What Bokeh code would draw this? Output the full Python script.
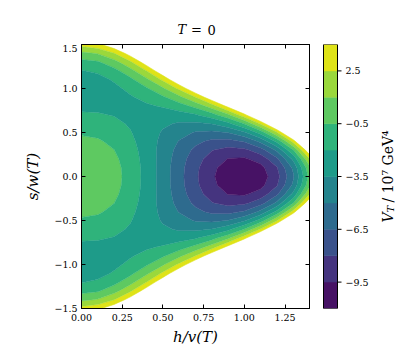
import numpy as np
from bokeh.plotting import figure
from bokeh.layouts import row, column
from bokeh.models import Range1d, FixedTicker, LinearAxis, Label, CustomJSTickFormatter
from bokeh.palettes import Viridis256
from bokeh.embed import file_html
from bokeh.resources import INLINE
from bokeh.core.properties import value

# ---------------- data ----------------
# grid positions of the potential samples, h/v(T) and s/w(T) >= 0 (field is symmetric in s)
h_vals = [0.0, 0.1, 0.2, 0.3, 0.4, 0.5, 0.6, 0.7, 0.8, 0.9, 1.0, 1.1, 1.2, 1.3, 1.4]
s_vals = [0.0, 0.1, 0.2, 0.3, 0.4, 0.5, 0.6, 0.7, 0.8, 0.9, 1.0, 1.1, 1.2, 1.3, 1.4, 1.5]
# V_T / 10^7 GeV^4, one row per s value, one column per h value
V_s00 = [0.96, 0.73, 0.04, -1.06, -2.51, -4.19, -5.99, -7.75, -9.29, -10.39, -10.81, -10.29, -8.53, -5.21, 0.04]
V_s01 = [0.89, 0.65, -0.02, -1.11, -2.52, -4.18, -5.94, -7.65, -9.14, -10.18, -10.53, -9.94, -8.10, -4.69, 0.65]
V_s02 = [0.67, 0.45, -0.20, -1.23, -2.58, -4.13, -5.78, -7.36, -8.68, -9.55, -9.70, -8.89, -6.81, -3.13, 2.49]
V_s03 = [0.31, 0.11, -0.48, -1.43, -2.65, -4.05, -5.50, -6.85, -7.92, -8.48, -8.31, -7.13, -4.64, -0.53, 5.56]
V_s04 = [-0.15, -0.32, -0.85, -1.67, -2.72, -3.90, -5.08, -6.11, -6.81, -6.96, -6.32, -4.62, -1.57, 3.15, 9.91]
V_s05 = [-0.69, -0.83, -1.26, -1.92, -2.75, -3.65, -4.48, -5.11, -5.33, -4.94, -3.71, -1.35, 2.42, 7.94, 15.54]
V_s06 = [-1.26, -1.37, -1.68, -2.15, -2.71, -3.26, -3.67, -3.79, -3.44, -2.40, -0.43, 2.74, 7.39, 13.87, 22.51]
V_s07 = [-1.82, -1.88, -2.06, -2.30, -2.54, -2.68, -2.60, -2.13, -1.09, 0.72, 3.56, 7.68, 13.38, 21.00, 30.87]
V_s08 = [-2.31, -2.32, -2.34, -2.32, -2.19, -1.86, -1.20, -0.05, 1.78, 4.49, 8.32, 13.54, 20.45, 29.38, 40.67]
V_s09 = [-2.66, -2.61, -2.45, -2.14, -1.59, -0.73, 0.59, 2.52, 5.23, 8.95, 13.92, 20.39, 28.67, 39.08, 51.98]
V_s10 = [-2.80, -2.68, -2.32, -1.67, -0.67, 0.80, 2.85, 5.64, 9.36, 14.21, 20.43, 28.30, 38.11, 50.18, 64.88]
V_s11 = [-2.63, -2.44, -1.86, -0.85, 0.68, 2.80, 5.66, 9.41, 14.22, 20.32, 27.95, 37.36, 48.86, 62.77, 79.45]
V_s12 = [-2.07, -1.80, -0.98, 0.44, 2.53, 5.38, 9.12, 13.91, 19.94, 27.41, 36.56, 47.66, 61.01, 76.94, 95.79]
V_s13 = [-1.01, -0.65, 0.43, 2.29, 4.99, 8.63, 13.34, 19.26, 26.60, 35.56, 46.37, 59.31, 74.68, 92.79, 114.00]
V_s14 = [0.67, 1.12, 2.49, 4.82, 8.18, 12.67, 18.41, 25.57, 34.32, 44.89, 57.50, 72.42, 89.96, 110.43, 134.20]
V_s15 = [3.08, 3.63, 5.30, 8.14, 12.21, 17.61, 24.48, 32.95, 43.23, 55.52, 70.06, 87.11, 106.98, 130.00, 156.50]

levels = [-11.0, -9.5, -8.0, -6.5, -5.0, -3.5, -2.0, -0.5, 1.0, 2.5, 4.0]

x_ticks = [0.0, 0.25, 0.5, 0.75, 1.0, 1.25]
x_tick_labels = ["0.00", "0.25", "0.50", "0.75", "1.00", "1.25"]
y_ticks = [-1.5, -1.0, -0.5, 0.0, 0.5, 1.0, 1.5]
y_tick_labels = ["\u22121.5", "\u22121.0", "\u22120.5", "0.0", "0.5", "1.0", "1.5"]
cbar_ticks = [2.5, -0.5, -3.5, -6.5, -9.5]
cbar_tick_labels = ["2.5", "\u22120.5", "\u22123.5", "\u22126.5", "\u22129.5"]

# ---------------- build grid (mirror in s) ----------------
rows_pos = [V_s00, V_s01, V_s02, V_s03, V_s04, V_s05, V_s06, V_s07,
            V_s08, V_s09, V_s10, V_s11, V_s12, V_s13, V_s14, V_s15]
s_full = [-s for s in reversed(s_vals[1:])] + s_vals
Z = np.array(list(reversed(rows_pos[1:])) + rows_pos, dtype=float)
X = np.array(h_vals, dtype=float)
Y = np.array(s_full, dtype=float)

n_bands = len(levels) - 1
colors = [Viridis256[int((i + 0.5) / n_bands * 256)] for i in range(n_bands)]
line_colors = [colors[max(k - 1, 0)] for k in range(len(levels))]

SERIF = "DejaVu Serif"
TICK_SIZE = "9.5px"

# ---------------- title strip (same horizontal borders as the main plot) ----------------
tf = figure(width=321, height=44, x_range=Range1d(81, 309), y_range=Range1d(44, 0),
            toolbar_location=None, output_backend="svg",
            x_axis_location=None, y_axis_location=None,
            min_border_left=81, min_border_right=12, min_border_top=0, min_border_bottom=0)
tf.title.visible = False
tf.outline_line_color = None
tf.grid.visible = False
tf.text(x=[177], y=[29], text=["T"], text_font=value(SERIF), text_font_style="italic",
        text_font_size="13px", text_baseline="alphabetic", text_align="left", text_color="black")
tf.text(x=[190.5, 207], y=[29, 29], text=["=", "0"], text_font=value(SERIF),
        text_font_size="13px", text_baseline="alphabetic", text_align="left", text_color="black")

# ---------------- main plot ----------------
p = figure(width=321, height=310, x_range=Range1d(0, 1.4), y_range=Range1d(-1.5, 1.5),
           toolbar_location=None, output_backend="svg",
           min_border_left=81, min_border_right=12, min_border_top=0, min_border_bottom=46)
p.title.visible = False
p.grid.visible = False
p.outline_line_color = "black"
p.outline_line_width = 1
p.background_fill_color = "white"
p.border_fill_color = "white"

p.contour(x=X, y=Y, z=Z, levels=levels, fill_color=colors, line_color=line_colors, line_width=0.6)

bottom = p.below[0]
left = p.left[0]
top = LinearAxis(ticker=FixedTicker(ticks=x_ticks), formatter=CustomJSTickFormatter(code="return ''"))
right = LinearAxis(ticker=FixedTicker(ticks=y_ticks), formatter=CustomJSTickFormatter(code="return ''"))
p.add_layout(top, "above")
p.add_layout(right, "right")

bottom.ticker = FixedTicker(ticks=x_ticks)
bottom.major_label_overrides = dict(zip(x_ticks, x_tick_labels))
left.ticker = FixedTicker(ticks=y_ticks)
left.major_label_overrides = dict(zip(y_ticks, y_tick_labels))

for ax in [bottom, left, top, right]:
    ax.major_tick_in = 4
    ax.major_tick_out = 0
    ax.minor_tick_line_color = None
    ax.axis_line_color = "black"
    ax.axis_line_width = 1
    ax.major_tick_line_color = "black"
    ax.major_tick_line_width = 1
    ax.major_label_text_font = SERIF
    ax.major_label_text_font_size = TICK_SIZE
    ax.major_label_text_color = "black"
for ax in [top, right]:
    ax.major_label_text_font_size = "0px"
    ax.major_label_standoff = 0

bottom.major_label_standoff = 5
left.major_label_standoff = 4

bottom.axis_label = "h/v(T)"
left.axis_label = "s/w(T)"
for ax in [bottom, left]:
    ax.axis_label_text_font = SERIF
    ax.axis_label_text_font_style = "italic"
    ax.axis_label_text_font_size = "15px"
    ax.axis_label_text_color = "black"
bottom.axis_label_standoff = 4
left.axis_label_standoff = 9

# ---------------- colour bar ----------------
cb = figure(width=78, height=354, x_range=Range1d(0, 78), y_range=Range1d(levels[0], levels[-1]),
            toolbar_location=None, output_backend="svg",
            x_axis_location=None, y_axis_location=None,
            min_border_left=0, min_border_right=0, min_border_top=44, min_border_bottom=46)
cb.title.visible = False
cb.outline_line_color = None
cb.grid.visible = False
cb.background_fill_color = "white"
cb.border_fill_color = "white"

cb.quad(left=2, right=16, bottom=levels[:-1], top=levels[1:], fill_color=colors,
        line_color=colors, line_width=0.5)
cb.quad(left=2, right=16, bottom=levels[0], top=levels[-1], fill_color=None,
        line_color="black", line_width=1)
cb.segment(x0=16, y0=cbar_ticks, x1=20, y1=cbar_ticks, line_color="black", line_width=1)
cb.text(x=24, y=cbar_ticks, text=cbar_tick_labels, text_baseline="middle", text_align="left",
        text_font=value(SERIF), text_font_size=value(TICK_SIZE), text_color="black")

cb.add_layout(Label(x=66, y=86, x_units="screen", y_units="screen", text="V", angle=90, angle_units="deg",
                    text_font=SERIF, text_font_style="italic", text_font_size="14px",
                    text_baseline="alphabetic", text_align="left", text_color="black"))
cb.add_layout(Label(x=69, y=96, x_units="screen", y_units="screen", text="T", angle=90, angle_units="deg",
                    text_font=SERIF, text_font_style="italic", text_font_size="10px",
                    text_baseline="alphabetic", text_align="left", text_color="black"))
cb.add_layout(Label(x=66, y=106, x_units="screen", y_units="screen", text="/ 10\u2077 GeV\u2074",
                    angle=90, angle_units="deg",
                    text_font=SERIF, text_font_size="14px",
                    text_baseline="alphabetic", text_align="left", text_color="black"))

layout = row(column(tf, p), cb)
open("out.html", "w").write(file_html(layout, INLINE))
